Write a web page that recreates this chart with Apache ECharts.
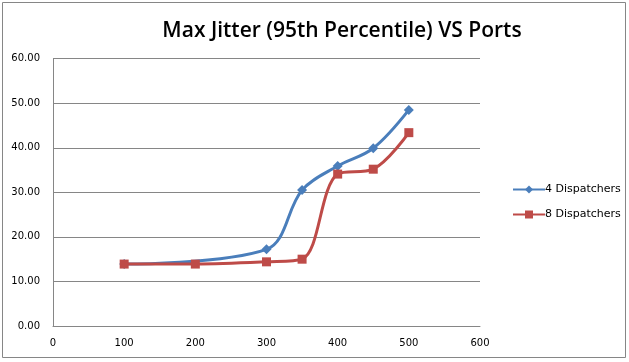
<!DOCTYPE html>
<html><head><meta charset="utf-8">
<script src="https://cdn.jsdelivr.net/npm/echarts@6/dist/echarts.min.js"></script>
<style>html,body{margin:0;padding:0;background:#fff}#c{width:629px;height:362px}</style>
</head><body><div id="c"></div>
<script>
var ports4 = [100, 300, 350, 400, 450, 500];
var disp4 = [13.9, 17.2, 30.5, 35.9, 39.9, 48.5];
var ports8 = [100, 200, 300, 350, 400, 450, 500];
var disp8 = [13.9, 13.9, 14.4, 15.0, 34.1, 35.2, 43.4];
var seriesNames = ['4 Dispatchers', '8 Dispatchers'];
var titleText = 'Max Jitter (95th Percentile) VS Ports';

function pairs(xs, ys){ return xs.map(function(x,i){ return [x, ys[i]]; }); }

var chart = echarts.init(document.getElementById('c'), null, {renderer:'canvas'});
chart.setOption({
  animation: false,
  backgroundColor: '#fff',
  graphic: [{type:'rect', shape:{x:2.5, y:2.5, width:623, height:355}, style:{fill:'none', stroke:'#868686', lineWidth:1}, silent:true}],
  title: {text: titleText, left: 337, top: 16, textAlign: 'center',
    textStyle:{fontFamily:'Open Sans', fontSize:21, fontWeight:'600', color:'#000'}},
  legend: {orient:'vertical', left: 507, top: 179, itemWidth: 32, itemHeight: 10, itemGap: 14,
    textStyle:{fontFamily:'DejaVu Sans', fontSize:11, color:'#000', padding:[0,0,0,-5]},
    data: seriesNames},
  grid: {left: 53, right: 149, top: 58.7, bottom: 36, containLabel: false},
  xAxis: {type:'value', min:0, max:600, interval:100,
    axisLine:{show:true, lineStyle:{color:'#868686', width:1}}, axisTick:{show:false},
    splitLine:{show:false},
    axisLabel:{fontFamily:'DejaVu Sans', fontSize:10, color:'#000', margin:12}},
  yAxis: {type:'value', min:0, max:60, interval:10,
    axisLine:{show:true, lineStyle:{color:'#868686', width:1}}, axisTick:{show:false},
    splitLine:{show:true, lineStyle:{color:'#868686', width:1}},
    axisLabel:{fontFamily:'DejaVu Sans', fontSize:10, color:'#000', margin:13,
      formatter:function(v){ return v.toFixed(2); }}},
  series: [
    {name: seriesNames[0], type:'line', smooth:0.35, data: pairs(ports4, disp4),
      symbol:'diamond', symbolSize:10, lineStyle:{color:'#4A7EBB', width:3},
      itemStyle:{color:'#4A7EBB'}, z:2},
    {name: seriesNames[1], type:'line', smooth:0.35, data: pairs(ports8, disp8),
      symbol:'rect', symbolSize:9, lineStyle:{color:'#BE4B48', width:3},
      itemStyle:{color:'#BE4B48'}, z:3}
  ]
});
</script></body></html>
